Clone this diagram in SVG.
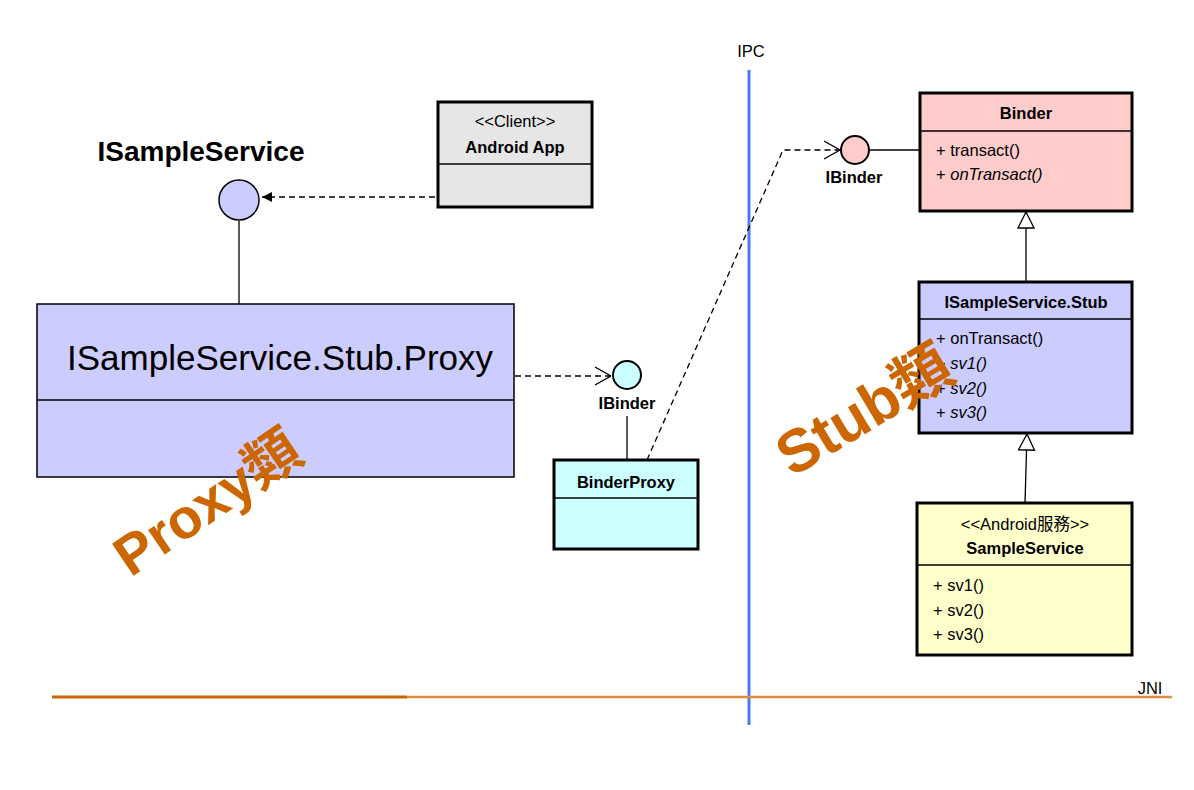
<svg xmlns="http://www.w3.org/2000/svg" width="1194" height="790" viewBox="0 0 1194 790">
<defs>
<style>
.box{stroke:#000;stroke-width:3}
.div{stroke:#000;stroke-width:1.5}
.t{font-family:"Liberation Sans",Arial,"Noto Sans CJK TC",sans-serif;font-size:16.5px;fill:#000}
.b{font-weight:bold}
.i{font-style:italic}
.c{text-anchor:middle}
.dash{fill:none;stroke:#000;stroke-width:1.3;stroke-dasharray:6 4}
.solid{fill:none;stroke:#000;stroke-width:1.3}
.wm{font-family:"Liberation Sans",Arial,"Noto Sans CJK TC",sans-serif;font-weight:bold;fill:#cc6600;text-anchor:middle}
</style>
<marker id="filled" viewBox="0 0 10 10" refX="10" refY="5" markerWidth="10" markerHeight="10" markerUnits="userSpaceOnUse" orient="auto">
<path d="M0,0 L10,5 L0,10 Z" fill="#000"/>
</marker>
<marker id="open" viewBox="0 0 16 20" refX="16" refY="10" markerWidth="16" markerHeight="20" markerUnits="userSpaceOnUse" orient="auto">
<path d="M0,1 L16,10 L0,19" fill="none" stroke="#000" stroke-width="1.3"/>
</marker>
<marker id="tri" viewBox="0 0 18 18" refX="17" refY="9" markerWidth="18" markerHeight="18" markerUnits="userSpaceOnUse" orient="auto">
<path d="M1,1 L17,9 L1,17 Z" fill="#fff" stroke="#000" stroke-width="1.3"/>
</marker>
</defs>
<rect width="1194" height="790" fill="#fff"/>

<g id="boundaries">
<line x1="749" y1="70" x2="749" y2="725" stroke="#4a7cf0" stroke-width="3"/>
<text x="751" y="57" class="t c">IPC</text>
<line x1="52" y1="697" x2="407" y2="697" stroke="#cc6600" stroke-width="3"/>
<line x1="407" y1="697" x2="1172" y2="697" stroke="#e08a3c" stroke-width="2.5"/>
<text x="1150" y="694" class="t c">JNI</text>
</g>

<g id="connectors">
<path class="dash" d="M445,197 L262,197" marker-end="url(#filled)"/>
<line class="solid" x1="239" y1="221" x2="239" y2="304"/>
<path class="dash" d="M515,376 L611,376" marker-end="url(#open)"/>
<line class="solid" x1="627" y1="416" x2="627" y2="460"/>
<path class="dash" d="M647,460 L783,150 L840,150" marker-end="url(#open)"/>
<line class="solid" x1="869" y1="150" x2="920" y2="150"/>
<path class="solid" d="M1026,282 L1026,212" marker-end="url(#tri)"/>
<path class="solid" d="M1025,503 L1027,434" marker-end="url(#tri)"/>
</g>

<g id="ISampleService">
<text x="201" y="161" class="t b c" style="font-size:28px">ISampleService</text>
<circle cx="239" cy="200" r="20" fill="#ccccff" stroke="#000" stroke-width="1.5"/>
</g>

<g id="AndroidApp">
<rect x="438" y="102" width="154" height="105" fill="#e6e6e6" class="box"/>
<line x1="438" y1="164" x2="592" y2="164" class="div"/>
<text x="515" y="127" class="t c">&lt;&lt;Client&gt;&gt;</text>
<text x="515" y="153" class="t b c">Android App</text>
</g>

<g id="Proxy">
<rect x="37" y="304" width="477" height="173" fill="#ccccff" stroke="#000" stroke-width="1.5"/>
<line x1="37" y1="400" x2="514" y2="400" class="div"/>
<text x="280" y="370" class="t c" style="font-size:35px">ISampleService.Stub.Proxy</text>
</g>

<g id="IBinderProxySide">
<circle cx="627" cy="375" r="14" fill="#ccffff" stroke="#000" stroke-width="2"/>
<text x="627" y="409" class="t b c">IBinder</text>
</g>

<g id="BinderProxy">
<rect x="554" y="460" width="144" height="89" fill="#ccffff" class="box"/>
<line x1="554" y1="498" x2="698" y2="498" class="div"/>
<text x="626" y="488" class="t b c">BinderProxy</text>
</g>

<g id="IBinderStubSide">
<circle cx="855" cy="150" r="14" fill="#ffcccc" stroke="#000" stroke-width="2"/>
<text x="854" y="183" class="t b c">IBinder</text>
</g>

<g id="Binder">
<rect x="920" y="93" width="212" height="118" fill="#ffcccc" class="box"/>
<line x1="920" y1="131" x2="1132" y2="131" class="div"/>
<text x="1026" y="119" class="t b c">Binder</text>
<text x="936" y="156" class="t">+ transact()</text>
<text x="936" y="180" class="t"><tspan>+ </tspan><tspan class="i">onTransact()</tspan></text>
</g>

<g id="Stub">
<rect x="919" y="282" width="213" height="151" fill="#ccccff" class="box"/>
<line x1="919" y1="319" x2="1132" y2="319" class="div"/>
<text x="1026" y="308" class="t b c">ISampleService.Stub</text>
<text x="936" y="344" class="t">+ onTransact()</text>
<text x="936" y="369" class="t"><tspan>+ </tspan><tspan class="i">sv1()</tspan></text>
<text x="936" y="394" class="t"><tspan>+ </tspan><tspan class="i">sv2()</tspan></text>
<text x="936" y="418" class="t"><tspan>+ </tspan><tspan class="i">sv3()</tspan></text>
</g>

<g id="SampleService">
<rect x="917" y="503" width="215" height="152" fill="#ffffcc" class="box"/>
<line x1="917" y1="565" x2="1132" y2="565" class="div"/>
<text x="1025" y="530" class="t c">&lt;&lt;Android服務&gt;&gt;</text>
<text x="1025" y="554" class="t b c">SampleService</text>
<text x="933" y="591" class="t">+ sv1()</text>
<text x="933" y="616" class="t">+ sv2()</text>
<text x="933" y="640" class="t">+ sv3()</text>
</g>

<g id="watermarks">
<text class="wm" font-size="56" transform="translate(207,502) rotate(-34)" y="20">Proxy類</text>
<text class="wm" font-size="60" transform="translate(864,410) rotate(-31)" y="21">Stub類</text>
</g>
</svg>
